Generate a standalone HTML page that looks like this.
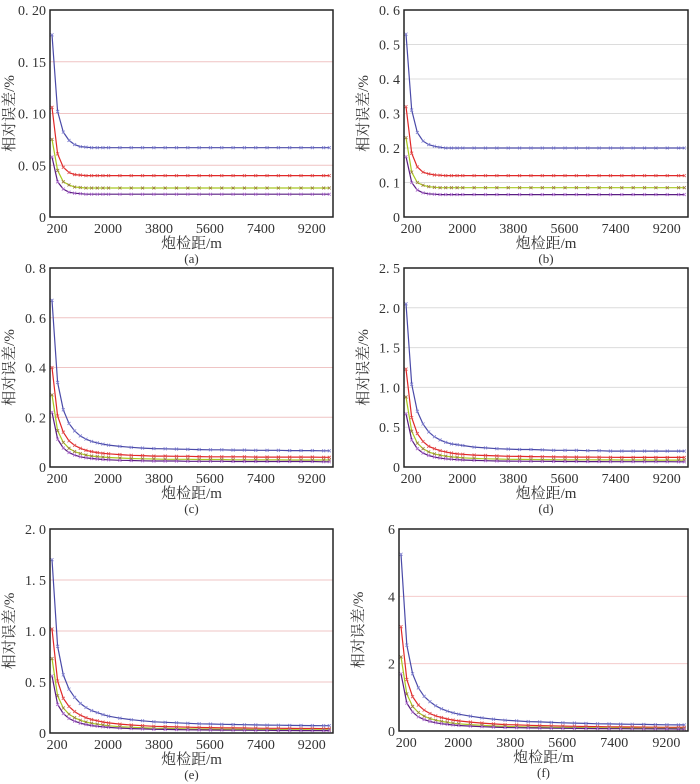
<!DOCTYPE html>
<html><head><meta charset="utf-8">
<style>
html,body{margin:0;padding:0;background:#fff;}
svg{display:block;}
text{font-family:"Liberation Serif","Noto Serif CJK SC",serif;fill:#333;}
</style></head>
<body>
<svg id="fig" width="700" height="784" viewBox="0 0 700 784"></svg>
<script>
const xValues=[20,220,420,620,820,1020,1220,1420,1620,1820,2020,2420,2820,3220,3620,4020,4420,4820,5220,5620,6020,6420,6820,7220,7620,8020,8420,8820,9220,9620,9820];
const xTicks=[200,2000,3800,5600,7400,9200];
const seriesNames=['blue','red','green','purple'];
const colors=['#4a4aa8','#e02828','#a8c820','#5a1e82'];
const markColors=['#8080d0','#e05050','#9a7a40','#b070d0'];

const aBlue=[0.176,0.102,0.082,0.074,0.070,0.068,0.0675,0.067,0.067,0.067,0.067,0.067,0.067,0.067,0.067,0.067,0.067,0.067,0.067,0.067,0.067,0.067,0.067,0.067,0.067,0.067,0.067,0.067,0.067,0.067,0.067];
const aRed=[0.106,0.061,0.048,0.043,0.041,0.0405,0.040,0.040,0.040,0.040,0.040,0.040,0.040,0.040,0.040,0.040,0.040,0.040,0.040,0.040,0.040,0.040,0.040,0.040,0.040,0.040,0.040,0.040,0.040,0.040,0.040];
const aGreen=[0.075,0.045,0.034,0.031,0.029,0.0285,0.028,0.028,0.028,0.028,0.028,0.028,0.028,0.028,0.028,0.028,0.028,0.028,0.028,0.028,0.028,0.028,0.028,0.028,0.028,0.028,0.028,0.028,0.028,0.028,0.028];
const aPurple=[0.058,0.034,0.027,0.024,0.023,0.0225,0.022,0.022,0.022,0.022,0.022,0.022,0.022,0.022,0.022,0.022,0.022,0.022,0.022,0.022,0.022,0.022,0.022,0.022,0.022,0.022,0.022,0.022,0.022,0.022,0.022];

const bBlue=[0.53,0.31,0.245,0.22,0.21,0.205,0.202,0.20,0.20,0.20,0.20,0.20,0.20,0.20,0.20,0.20,0.20,0.20,0.20,0.20,0.20,0.20,0.20,0.20,0.20,0.20,0.20,0.20,0.20,0.20,0.20];
const bRed=[0.32,0.185,0.145,0.13,0.125,0.122,0.121,0.12,0.12,0.12,0.12,0.12,0.12,0.12,0.12,0.12,0.12,0.12,0.12,0.12,0.12,0.12,0.12,0.12,0.12,0.12,0.12,0.12,0.12,0.12,0.12];
const bGreen=[0.23,0.13,0.10,0.092,0.088,0.086,0.085,0.085,0.085,0.085,0.085,0.085,0.085,0.085,0.085,0.085,0.085,0.085,0.085,0.085,0.085,0.085,0.085,0.085,0.085,0.085,0.085,0.085,0.085,0.085,0.085];
const bPurple=[0.175,0.10,0.078,0.07,0.067,0.066,0.065,0.065,0.065,0.065,0.065,0.065,0.065,0.065,0.065,0.065,0.065,0.065,0.065,0.065,0.065,0.065,0.065,0.065,0.065,0.065,0.065,0.065,0.065,0.065,0.065];

const cBlue=[0.67,0.34,0.23,0.175,0.145,0.125,0.112,0.103,0.097,0.092,0.088,0.083,0.079,0.076,0.074,0.073,0.072,0.071,0.070,0.069,0.069,0.068,0.068,0.067,0.067,0.067,0.066,0.066,0.066,0.065,0.065];
const cRed=[0.40,0.205,0.14,0.105,0.087,0.075,0.067,0.062,0.058,0.055,0.053,0.050,0.047,0.046,0.044,0.044,0.043,0.043,0.042,0.041,0.041,0.041,0.041,0.040,0.040,0.040,0.040,0.040,0.040,0.039,0.039];
const cGreen=[0.29,0.146,0.099,0.075,0.062,0.054,0.048,0.044,0.042,0.040,0.038,0.036,0.034,0.033,0.032,0.031,0.031,0.031,0.030,0.030,0.030,0.029,0.029,0.029,0.029,0.029,0.028,0.028,0.028,0.028,0.028];
const cPurple=[0.22,0.112,0.076,0.058,0.048,0.041,0.037,0.034,0.032,0.030,0.029,0.027,0.026,0.025,0.024,0.024,0.024,0.023,0.023,0.023,0.023,0.022,0.022,0.022,0.022,0.022,0.022,0.022,0.022,0.021,0.021];

const dBlue=[2.05,1.04,0.70,0.54,0.44,0.38,0.34,0.31,0.29,0.28,0.27,0.25,0.24,0.23,0.225,0.22,0.22,0.215,0.21,0.21,0.21,0.205,0.205,0.20,0.20,0.20,0.20,0.20,0.20,0.20,0.20];
const dRed=[1.23,0.62,0.42,0.32,0.26,0.23,0.205,0.19,0.175,0.165,0.16,0.15,0.145,0.14,0.135,0.133,0.131,0.129,0.127,0.126,0.125,0.124,0.123,0.122,0.121,0.121,0.120,0.120,0.120,0.120,0.120];
const dGreen=[0.88,0.45,0.30,0.23,0.19,0.165,0.148,0.136,0.127,0.12,0.115,0.108,0.103,0.1,0.097,0.095,0.094,0.093,0.092,0.091,0.09,0.09,0.089,0.089,0.088,0.088,0.088,0.087,0.087,0.087,0.087];
const dPurple=[0.67,0.34,0.23,0.175,0.145,0.125,0.112,0.103,0.097,0.092,0.088,0.083,0.079,0.076,0.074,0.073,0.072,0.071,0.070,0.069,0.069,0.068,0.068,0.067,0.067,0.067,0.066,0.066,0.066,0.065,0.065];

const eBlue=[1.70,0.85,0.57,0.43,0.35,0.29,0.25,0.22,0.20,0.18,0.165,0.145,0.13,0.12,0.11,0.105,0.10,0.095,0.09,0.088,0.085,0.083,0.081,0.079,0.077,0.076,0.075,0.074,0.073,0.072,0.072];
const eRed=[1.02,0.51,0.34,0.26,0.21,0.175,0.15,0.132,0.12,0.108,0.099,0.087,0.078,0.072,0.066,0.063,0.06,0.057,0.054,0.053,0.051,0.05,0.049,0.047,0.046,0.046,0.045,0.044,0.044,0.043,0.043];
const eGreen=[0.73,0.365,0.245,0.185,0.15,0.125,0.108,0.095,0.086,0.078,0.071,0.062,0.056,0.052,0.047,0.045,0.043,0.041,0.039,0.038,0.037,0.036,0.035,0.034,0.033,0.033,0.032,0.032,0.031,0.031,0.031];
const ePurple=[0.56,0.28,0.19,0.142,0.116,0.096,0.083,0.073,0.066,0.06,0.055,0.048,0.043,0.04,0.036,0.035,0.033,0.031,0.03,0.029,0.028,0.027,0.027,0.026,0.026,0.025,0.025,0.024,0.024,0.024,0.024];

const fBlue=[5.25,2.55,1.70,1.28,1.03,0.87,0.75,0.66,0.59,0.54,0.50,0.44,0.39,0.35,0.32,0.30,0.28,0.27,0.255,0.245,0.235,0.225,0.215,0.21,0.205,0.20,0.195,0.19,0.185,0.18,0.18];
const fRed=[3.10,1.53,1.02,0.77,0.62,0.52,0.45,0.40,0.355,0.325,0.30,0.265,0.235,0.21,0.19,0.18,0.17,0.16,0.153,0.147,0.141,0.135,0.13,0.126,0.123,0.12,0.117,0.114,0.111,0.108,0.108];
const fGreen=[2.20,1.10,0.73,0.55,0.44,0.37,0.32,0.285,0.255,0.23,0.215,0.19,0.168,0.15,0.137,0.128,0.12,0.115,0.11,0.105,0.1,0.097,0.093,0.09,0.088,0.086,0.084,0.082,0.08,0.078,0.078];
const fPurple=[1.70,0.83,0.56,0.42,0.34,0.285,0.245,0.218,0.196,0.178,0.164,0.145,0.128,0.116,0.105,0.098,0.093,0.088,0.084,0.08,0.077,0.074,0.072,0.069,0.067,0.066,0.064,0.063,0.061,0.06,0.06];

const aYTicks=['0','0. 05','0. 10','0. 15','0. 20'];
const bYTicks=['0','0. 1','0. 2','0. 3','0. 4','0. 5','0. 6'];
const cYTicks=['0','0. 2','0. 4','0. 6','0. 8'];
const dYTicks=['0','0. 5','1. 0','1. 5','2. 0','2. 5'];
const eYTicks=['0','0. 5','1. 0','1. 5','2. 0'];
const fYTicks=['0','2','4','6'];
const aYVals=[0,0.05,0.10,0.15,0.20];
const bYVals=[0,0.1,0.2,0.3,0.4,0.5,0.6];
const cYVals=[0,0.2,0.4,0.6,0.8];
const dYVals=[0,0.5,1.0,1.5,2.0,2.5];
const eYVals=[0,0.5,1.0,1.5,2.0];
const fYVals=[0,2,4,6];

const NS='http://www.w3.org/2000/svg';
const svg=document.getElementById('fig');
function mk(tag,attrs,parent){const e=document.createElementNS(NS,tag);for(const k in attrs)e.setAttribute(k,attrs[k]);(parent||svg).appendChild(e);return e;}

function drawChart(id,box,yVals,yTicks,series,gridColor){
  const g=mk('g',{});
  
  
  const [L,T,R,B]=box;
  const xMin=-50,xMax=9950,yMax=yVals[yVals.length-1];
  const sx=v=>L+(v-xMin)/(xMax-xMin)*(R-L);
  const sy=v=>B-v/yMax*(B-T);
  // gridlines
  yVals.forEach((v,i)=>{
    if(i>0&&i<yVals.length-1){
      const gl=mk('line',{x1:L,x2:R,y1:sy(v),y2:sy(v),stroke:gridColor,'stroke-width':1},g);
      
      
    }
    const t=mk('text',{x:L-4,y:sy(v)+5,'text-anchor':'end','font-size':14},g);
    t.textContent=yTicks[i];
    
    
  });
  xTicks.forEach(v=>{
    const t=mk('text',{x:sx(v),y:B+16,'text-anchor':'middle','font-size':14},g);
    t.textContent=String(v);
    
    
  });
  // series
  series.forEach((vals,si)=>{
    const pts=vals.map((v,i)=>sx(xValues[i]).toFixed(1)+','+sy(v).toFixed(1)).join(' ');
    const pl=mk('polyline',{points:pts,fill:'none',stroke:colors[si],'stroke-width':1.2},g);
    
    
    let d='';
    vals.forEach((v,i)=>{const x=sx(xValues[i]),y=sy(v);d+=`M${x-1.5},${y-1.5}L${x+1.5},${y+1.5}M${x-1.5},${y+1.5}L${x+1.5},${y-1.5}`;});
    const mp=mk('path',{d:d,stroke:markColors[si],'stroke-width':0.8,fill:'none'},g);
    
    
  });
  const frame=mk('rect',{x:L,y:T,width:R-L,height:B-T,fill:'none',stroke:'#222','stroke-width':1.5},g);
  
  
  const xl=mk('text',{x:(L+R)/2,y:B+31,'text-anchor':'middle','font-size':15},g);
  xl.textContent='炮检距/m';
  
  
  const cap=mk('text',{x:(L+R)/2,y:B+46,'text-anchor':'middle','font-size':13},g);
  cap.textContent='('+id+')';
  
  
  const cy=(T+B)/2, cx=L-36;
  const yl=mk('text',{x:cx,y:cy,'text-anchor':'middle','font-size':15,transform:`rotate(-90 ${cx} ${cy})`},g);
  yl.textContent='相对误差/%';
  
  
}
drawChart('a',[50,10,333,217],aYVals,aYTicks,[aBlue,aRed,aGreen,aPurple],'#efc4c4');
drawChart('b',[404,10,688,217],bYVals,bYTicks,[bBlue,bRed,bGreen,bPurple],'#dcdcdc');
drawChart('c',[50,268,333,467],cYVals,cYTicks,[cBlue,cRed,cGreen,cPurple],'#efc4c4');
drawChart('d',[404,268,688,467],dYVals,dYTicks,[dBlue,dRed,dGreen,dPurple],'#dcdcdc');
drawChart('e',[50,529,333,733],eYVals,eYTicks,[eBlue,eRed,eGreen,ePurple],'#efc4c4');
drawChart('f',[399,529,688,731],fYVals,fYTicks,[fBlue,fRed,fGreen,fPurple],'#f4cccc');
</script>
</body></html>
